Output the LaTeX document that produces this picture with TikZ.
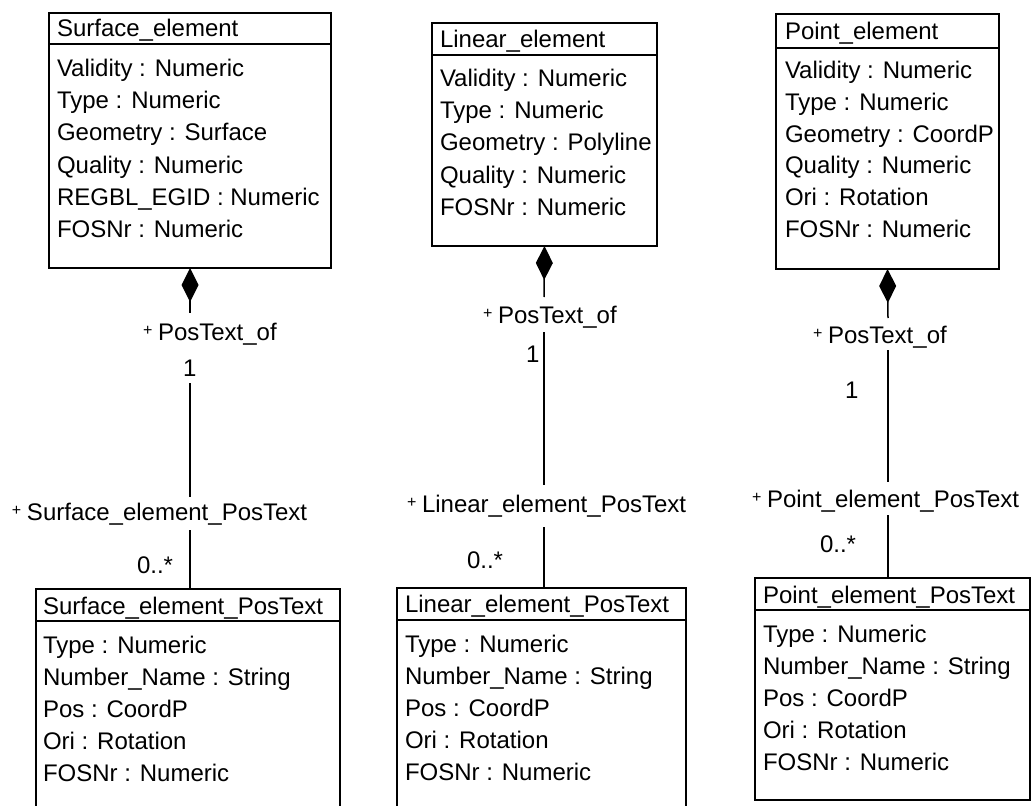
\documentclass[tikz,border=0pt]{standalone}
\usepackage{fontspec}
\setmainfont{Liberation Sans}
\usetikzlibrary{arrows.meta}
\newcommand{\pl}{\makebox[15pt][l]{\raisebox{5pt}{\fontsize{16}{16}\selectfont +}}}
\tikzset{
  cls/.style={draw, line width=1.7pt, inner sep=0pt, outer sep=0pt, anchor=north west},
  txt/.style={anchor=base west, inner sep=0pt, outer sep=0pt, font=\fontsize{24}{28}\selectfont},
  conn/.style={line width=1.5pt},
  comp/.style={conn, {Diamond[length=34pt,width=17pt]}-},
  hdr/.style={line width=1.7pt}
}
\begin{document}
\begin{tikzpicture}[x=1pt,y=-1pt]
\useasboundingbox (0,0) rectangle (1032,805);
\clip (0,0) rectangle (1032,805);
\fill[white] (0,0) rectangle (1032,805);

% ---------- class boxes ----------
\node[cls, minimum width=282pt, minimum height=255pt] (se) at (49,13) {};
\node[cls, minimum width=225pt, minimum height=223pt] (le) at (432,23) {};
\node[cls, minimum width=223pt, minimum height=255pt] (pe) at (776,14) {};
\node[cls, minimum width=304pt, minimum height=250pt] (sept) at (36,589) {};
\node[cls, minimum width=289pt, minimum height=250pt] (lept) at (397,588) {};
\node[cls, minimum width=275pt, minimum height=222pt] (pept) at (755,578) {};

% header separators
\draw[hdr] ([yshift=-31pt]se.north west) -- ([yshift=-31pt]se.north east);
\draw[hdr] ([yshift=-32pt]le.north west) -- ([yshift=-32pt]le.north east);
\draw[hdr] ([yshift=-34pt]pe.north west) -- ([yshift=-34pt]pe.north east);
\draw[hdr] ([yshift=-32pt]sept.north west) -- ([yshift=-32pt]sept.north east);
\draw[hdr] ([yshift=-32pt]lept.north west) -- ([yshift=-32pt]lept.north east);
\draw[hdr] ([yshift=-32pt]pept.north west) -- ([yshift=-32pt]pept.north east);

% ---------- texts ----------
\node[txt] (se-h) at (57,37) {Surface\_element};
\foreach \t [count=\i] in {Validity : Numeric, Type : Numeric, Geometry : Surface, Quality : Numeric, REGBL\_EGID : Numeric, FOSNr : Numeric}
  \node[txt] (se-\i) at (57,{77+32*(\i-1)}) {\t};

\node[txt] (le-h) at (440,48) {Linear\_element};
\foreach \t [count=\i] in {Validity : Numeric, Type : Numeric, Geometry : Polyline, Quality : Numeric, FOSNr : Numeric}
  \node[txt] (le-\i) at (440,{87+32*(\i-1)}) {\t};

\node[txt] (pe-h) at (785,40) {Point\_element};
\foreach \t [count=\i] in {Validity : Numeric, Type : Numeric, Geometry : CoordP, Quality : Numeric, Ori : Rotation, FOSNr : Numeric}
  \node[txt] (pe-\i) at (785,{79+31.6*(\i-1)}) {\t};

\node[txt] (sept-h) at (43,614) {Surface\_element\_PosText};
\foreach \t [count=\i] in {Type : Numeric, Number\_Name : String, Pos : CoordP, Ori : Rotation, FOSNr : Numeric}
  \node[txt] (sept-\i) at (43,{653+32.2*(\i-1)}) {\t};

\node[txt] (lept-h) at (405,612) {Linear\_element\_PosText};
\foreach \t [count=\i] in {Type : Numeric, Number\_Name : String, Pos : CoordP, Ori : Rotation, FOSNr : Numeric}
  \node[txt] (lept-\i) at (405,{652+32*(\i-1)}) {\t};

\node[txt] (pept-h) at (763,603) {Point\_element\_PosText};
\foreach \t [count=\i] in {Type : Numeric, Number\_Name : String, Pos : CoordP, Ori : Rotation, FOSNr : Numeric}
  \node[txt] (pept-\i) at (763,{642+32*(\i-1)}) {\t};

% ---------- association labels ----------
\node[txt] (s-role1) at (143,340) {\pl PosText\_of};
\node[txt] (s-m1) at (183,376) {1};
\node[txt] (s-role2) at (12,520) {\pl Surface\_element\_PosText};
\node[txt] (s-m2) at (137,573) {0..*};

\node[txt] (l-role1) at (483,323) {\pl PosText\_of};
\node[txt] (l-m1) at (526,362) {1};
\node[txt] (l-role2) at (407,512) {\pl Linear\_element\_PosText};
\node[txt] (l-m2) at (467,568) {0..*};

\node[txt] (p-role1) at (813,343) {\pl PosText\_of};
\node[txt] (p-m1) at (845,398) {1};
\node[txt] (p-role2) at (752,507) {\pl Point\_element\_PosText};
\node[txt] (p-m2) at (820,552) {0..*};

% ---------- connectors (broken around labels) ----------
\coordinate (sa) at (190,313);
\coordinate (sb) at (190,383);
\coordinate (sc) at (190,497);
\coordinate (sd) at (190,530);
\draw[comp] (se.south) -- (sa);
\draw[conn] (sb) -- (sc);
\draw[conn] (sd) -- (sept.north -| sd);

\coordinate (la) at (544,297);
\coordinate (lb) at (544,332);
\coordinate (lc) at (544,485);
\coordinate (ld) at (544,527);
\draw[comp] (le.south) -- (la);
\draw[conn] (lb) -- (lc);
\draw[conn] (ld) -- (lept.north -| ld);

\coordinate (pa) at (888,318);
\coordinate (pb) at (888,350);
\coordinate (pc) at (888,482);
\coordinate (pd) at (888,515);
\draw[comp] (pe.south) -- (pa);
\draw[conn] (pb) -- (pc);
\draw[conn] (pd) -- (pept.north -| pd);
\end{tikzpicture}
\end{document}
